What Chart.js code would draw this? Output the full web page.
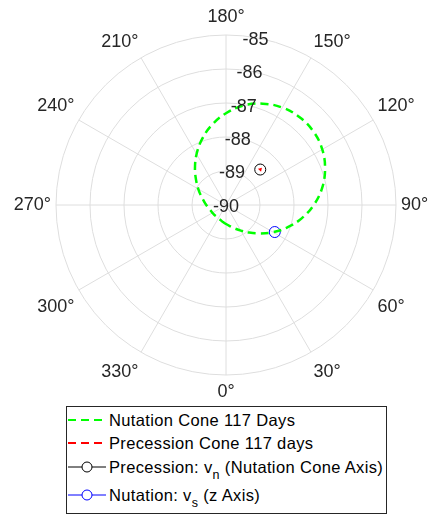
<!DOCTYPE html>
<html>
<head>
<meta charset="utf-8">
<script src="https://cdn.jsdelivr.net/npm/chart.js@4.4.1/dist/chart.umd.min.js"></script>
<style>
  html, body { margin: 0; padding: 0; background: #fff; }
  #wrap { position: relative; width: 432px; height: 515px; }
  #legend {
    position: absolute; left: 66px; top: 406px; width: 321px; height: 108px;
    box-sizing: border-box; border: 1px solid #262626; background: #fff;
    font-family: "Liberation Sans", Arial, sans-serif; font-size: 16.5px; color: #000;
  }
  .row { position: absolute; left: 0; height: 20px; line-height: 20px; white-space: nowrap; }
  .row svg { position: absolute; left: 1px; top: 5px; }
  .row span { position: absolute; left: 42px; top: 1px; letter-spacing: 0.35px; }
  sub { font-size: 12.5px; vertical-align: -6px; line-height: 0; }
</style>
</head>
<body>
<div id="wrap">
  <canvas id="chart" width="432" height="515"></canvas>
  <div id="legend"></div>
</div>
<script>
// angle categories, one per degree, going clockwise on screen from the bottom (0)
const thetaLabels = [];
for (let i = 0; i < 360; i++) thetaLabels.push((360 - i) % 360);

const thetaTicks = [0, 30, 60, 90, 120, 150, 180, 210, 240, 270, 300, 330];
const rTicks = [-90, -89, -88, -87, -86, -85];
const rAxisAngle = 170;

// nutation cone, read every 10 degrees
const nutationTheta = [0, 10, 20, 30, 40, 50, 60, 70, 80, 90, 100, 110, 120, 130, 140, 150, 160, 170,
  180, 190, 200, 210, 220, 230, 240, 250, 260, 270, 280, 290, 300, 310, 320, 330, 340, 350];
const nutationR = [-89.44, -89.37, -89.27, -89.13, -88.94, -88.70, -88.40, -88.08, -87.74, -87.42,
  -87.13, -86.90, -86.73, -86.64, -86.63, -86.69, -86.83, -87.03,
  -87.30, -87.61, -87.94, -88.27, -88.58, -88.85, -89.06, -89.22, -89.34, -89.42,
  -89.48, -89.52, -89.54, -89.55, -89.56, -89.55, -89.53, -89.49];

// precession cone is tiny, around the precession axis
const precessionTheta = [135, 136, 137];
const precessionR = [-88.56, -88.52, -88.56];

const vnTheta = [136];
const vnR = [-88.55];
const vsTheta = [61];
const vsR = [-88.36];

const seriesLabels = [
  'Nutation Cone 117 Days',
  'Precession Cone 117 days',
  'Precession: v<sub>n</sub> (Nutation Cone Axis)',
  'Nutation: v<sub>s</sub> (z Axis)'
];
const seriesColors = ['#00ff00', '#ff0000', '#000000', '#0000ff'];

function toSeries(thetas, rs) {
  const out = new Array(thetaLabels.length).fill(null);
  thetas.forEach((t, i) => { out[thetaLabels.indexOf(t)] = rs[i]; });
  return out;
}

const gridColor = '#dedede';

// draw r and theta labels the way matlab places them
const polarText = {
  id: 'polarText',
  afterDraw(chart) {
    const scale = chart.scales.r;
    const ctx = chart.ctx;
    ctx.save();
    ctx.fillStyle = '#262626';
    ctx.font = '18px "Liberation Sans", Arial, sans-serif';
    ctx.textAlign = 'center';
    ctx.textBaseline = 'middle';
    const rIdx = thetaLabels.indexOf(rAxisAngle);
    rTicks.forEach(v => {
      const p = scale.getPointPositionForValue(rIdx, v);
      ctx.fillText(String(v), p.x, p.y + 2);
    });
    thetaTicks.forEach(t => {
      const u = scale.getPointPosition(thetaLabels.indexOf(t), 1);
      const ux = u.x - scale.xCenter, uy = u.y - scale.yCenter;
      const label = t + '°';
      const w = ctx.measureText(label).width;
      const d = scale.drawingArea + 5;
      let x = scale.xCenter + ux * d;
      let y = scale.yCenter + uy * d;
      // anchor the near corner / edge of the text on the ring
      if (Math.abs(ux) > 0.01) x += Math.sign(ux) * w / 2;
      if (Math.abs(ux) <= 0.01) y += Math.sign(uy) * 12.5;
      else if (uy < -0.01) y -= 11.5;
      else if (uy > 0.01) y += 15;
      ctx.fillText(label, x, y);
    });
    ctx.restore();
  }
};

const chart = new Chart(document.getElementById('chart'), {
  type: 'radar',
  data: {
    labels: thetaLabels,
    datasets: [{
      label: seriesLabels[0],
      data: toSeries(nutationTheta, nutationR),
      borderColor: seriesColors[0],
      borderWidth: 2.5,
      borderDash: [8, 5],
      tension: 0.4,
      spanGaps: true,
      fill: false,
      pointRadius: 0
    }, {
      label: seriesLabels[1],
      data: toSeries(precessionTheta, precessionR),
      borderColor: seriesColors[1],
      borderWidth: 1.5,
      spanGaps: true,
      fill: false,
      pointRadius: 0
    }, {
      label: seriesLabels[2],
      data: toSeries(vnTheta, vnR),
      showLine: false,
      pointStyle: 'circle',
      pointRadius: 5.5,
      pointBorderWidth: 1,
      pointBorderColor: seriesColors[2],
      pointBackgroundColor: 'rgba(0,0,0,0)'
    }, {
      label: seriesLabels[3],
      data: toSeries(vsTheta, vsR),
      showLine: false,
      pointStyle: 'circle',
      pointRadius: 5.5,
      pointBorderWidth: 1,
      pointBorderColor: seriesColors[3],
      pointBackgroundColor: 'rgba(0,0,0,0)'
    }]
  },
  options: {
    responsive: false,
    animation: false,
    layout: { padding: { left: 56, right: 36, top: 35, bottom: 140 } },
    plugins: { legend: { display: false }, tooltip: { enabled: false } },
    scales: {
      r: {
        min: -90,
        max: -85,
        startAngle: 180,
        ticks: { display: false, stepSize: 1 },
        pointLabels: { display: false },
        grid: { circular: true, color: gridColor, lineWidth: 1 },
        angleLines: {
          display: true,
          color: gridColor,
          lineWidth: ctx => thetaTicks.includes(thetaLabels[ctx.index]) ? 1 : 0
        }
      }
    }
  },
  plugins: [polarText]
});

// html legend so the subscripts stay real text
const rowTops = [2, 25, 49, 77];
const legendEl = document.getElementById('legend');
chart.data.datasets.forEach((ds, i) => {
  const row = document.createElement('div');
  row.className = 'row';
  row.style.top = rowTops[i] + 'px';
  const dashed = ds.showLine !== false;
  let sample = '<svg width="38" height="12">';
  if (dashed) {
    sample += `<line x1="0" y1="6" x2="38" y2="6" stroke="${seriesColors[i]}" stroke-width="2" stroke-dasharray="8,5"/>`;
  } else {
    sample += `<line x1="0" y1="6" x2="38" y2="6" stroke="${seriesColors[i]}" stroke-width="1"/>`;
    sample += `<circle cx="19" cy="6" r="5" fill="#fff" stroke="${seriesColors[i]}" stroke-width="1"/>`;
  }
  sample += '</svg>';
  row.innerHTML = sample + '<span>' + seriesLabels[i] + '</span>';
  legendEl.appendChild(row);
});
</script>
</body>
</html>
